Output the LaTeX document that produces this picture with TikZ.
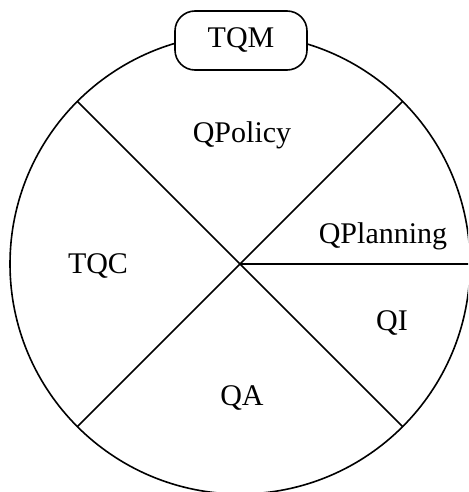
\documentclass[tikz,border=0pt]{standalone}
\usepackage{fontspec}
\setmainfont{Liberation Serif}
\usepackage{tikz}
\newcommand{\seclabel}[3]{\node[anchor=base,font=\fontsize{30}{30}\selectfont] (#1) at #2 {#3};}

\begin{document}
\begin{tikzpicture}[x=1pt,y=-1pt,line width=1.6pt]
  \useasboundingbox (0,0) rectangle (468,492);
  \clip (0,0) rectangle (468,492);
  \coordinate (c) at (240,264);
  \draw (c) circle[radius=230];
  \foreach \a in {0,45,135,225,315}{\draw (c) -- ++(\a:230);}
  \node[draw,fill=white,rounded corners=20pt,minimum width=132pt,minimum height=59pt,font=\fontsize{30}{30}\selectfont] (tqm) at (241,40.5) {TQM};
  \seclabel{qpolicy}{(242,142)}{QPolicy}
  \seclabel{qplanning}{(383,243)}{QPlanning}
  \seclabel{tqc}{(98,273)}{TQC}
  \seclabel{qi}{(392,330)}{QI}
  \seclabel{qa}{(242,405)}{QA}
\end{tikzpicture}
\end{document}
